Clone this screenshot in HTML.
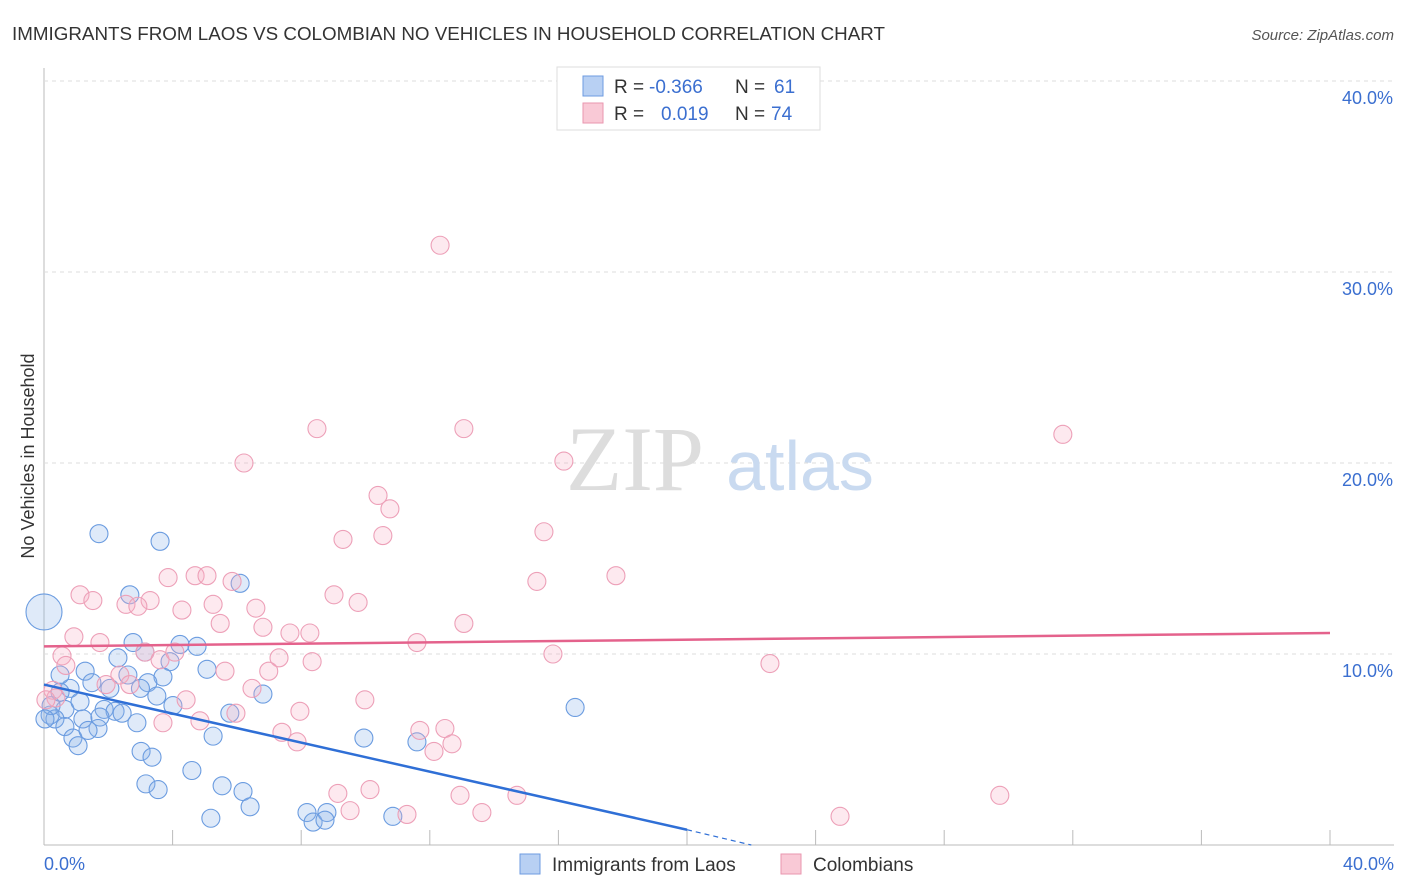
<!DOCTYPE html>
<html><head><meta charset="utf-8"><style>
body{margin:0;background:#fff;font-family:"Liberation Sans",sans-serif}
svg{display:block}
</style></head><body>
<svg width="1406" height="892">
<text x="12" y="40" font-size="18" fill="#333" textLength="873" lengthAdjust="spacingAndGlyphs">IMMIGRANTS FROM LAOS VS COLOMBIAN NO VEHICLES IN HOUSEHOLD CORRELATION CHART</text>
<text x="1394" y="40" font-size="15" fill="#555" font-style="italic" text-anchor="end">Source: ZipAtlas.com</text>
<g id="grid"></g>
<text x="635" y="490" font-size="92" fill="#ddd" font-family="Liberation Serif" text-anchor="middle">ZIP</text>
<text x="800" y="490" font-size="70" fill="#c9daf0" text-anchor="middle">atlas</text>
<g id="pts"></g>
<g id="lines"></g>
<text transform="translate(34,456) rotate(-90)" font-size="18" fill="#333" text-anchor="middle">No Vehicles in Household</text>
<text x="44" y="870" font-size="18" fill="#3b6fd0">0.0%</text>
<text x="1394" y="870" font-size="18" fill="#3b6fd0" text-anchor="end">40.0%</text>
<g>
<rect x="557" y="67" width="263" height="63" fill="#fff" stroke="#ddd"/>
<rect x="583" y="76" width="20" height="20" fill="#b8d0f3" stroke="#6e9be0"/>
<rect x="583" y="103" width="20" height="20" fill="#f9c9d6" stroke="#e996af"/>
<text x="614" y="93" font-size="19" fill="#333">R =</text>
<text x="649" y="93" font-size="19" fill="#3b6fd0">-0.366</text>
<text x="735" y="93" font-size="19" fill="#333">N =</text>
<text x="774" y="93" font-size="19" fill="#3b6fd0">61</text>
<text x="614" y="120" font-size="19" fill="#333">R =</text>
<text x="661" y="120" font-size="19" fill="#3b6fd0">0.019</text>
<text x="735" y="120" font-size="19" fill="#333">N =</text>
<text x="771" y="120" font-size="19" fill="#3b6fd0">74</text>
</g>
<g>
<rect x="520" y="854" width="20" height="20" fill="#b8d0f3" stroke="#6e9be0"/>
<text x="552" y="871" font-size="19" fill="#333">Immigrants from Laos</text>
<rect x="781" y="854" width="20" height="20" fill="#f9c9d6" stroke="#e996af"/>
<text x="813" y="871" font-size="19" fill="#333">Colombians</text>
</g>
</svg>
<script>
const yTicks=[10,20,30,40];
const yTickLabels=["10.0%","20.0%","30.0%","40.0%"];
const xTicks=[0,4,8,12,16,20,24,28,32,36,40];
const blueX=[0,1.71,3.61,2.67,6.1,2.77,4.23,4.76,3.14,3.92,5.07,1.28,2.3,1.49,2.61,3.7,3.23,2.05,0.81,0.5,6.81,3.51,4.01,5.78,1.87,2.21,2.43,0.65,0.19,0.34,1.21,1.74,2.89,1.68,0.65,0.9,1.06,5.26,1.37,3.02,3.36,4.6,3.17,3.55,5.54,6.19,6.41,5.19,8.18,8.37,8.8,8.74,9.95,11.6,10.85,16.52,0.22,0.5,0.03,1.12,3.0];
const blueY=[12.2,16.3,15.9,13.1,13.7,10.6,10.5,10.4,10.1,9.6,9.2,9.1,9.8,8.5,8.9,8.8,8.5,8.2,8.2,8.9,7.9,7.8,7.3,6.9,7.1,7.0,6.9,7.1,6.8,6.6,6.6,6.7,6.4,6.1,6.2,5.6,5.2,5.7,6.0,4.9,4.6,3.9,3.2,2.9,3.1,2.8,2.0,1.4,1.7,1.2,1.7,1.3,5.6,5.4,1.5,7.2,7.3,8.0,6.6,7.5,8.2];
const blueR=[18];
const pinkX=[12.32,8.49,13.06,31.69,6.22,16.17,10.39,10.76,15.55,9.3,10.54,3.86,4.7,5.07,5.85,17.79,15.33,1.12,1.52,2.55,3.3,2.92,4.29,5.26,6.59,9.02,9.77,5.48,6.81,13.06,7.65,8.27,0.93,1.74,11.6,3.14,3.61,4.07,0.56,0.68,15.83,7.31,8.34,6.99,5.63,22.58,2.36,2.67,1.93,6.47,4.42,9.98,5.97,4.85,3.7,7.96,7.4,7.87,11.69,12.47,12.69,12.13,0.28,0.37,0.06,9.14,10.14,12.94,14.71,9.52,11.29,13.62,24.76,29.73];
const pinkY=[31.4,21.8,21.8,21.5,20.0,20.1,18.3,17.6,16.4,16.0,16.2,14.0,14.1,14.1,13.8,14.1,13.8,13.1,12.8,12.6,12.8,12.5,12.3,12.6,12.4,13.1,12.7,11.6,11.4,11.6,11.1,11.1,10.9,10.6,10.6,10.1,9.7,10.1,9.9,9.4,10.0,9.8,9.6,9.1,9.1,9.5,8.9,8.4,8.4,8.2,7.6,7.6,6.9,6.5,6.4,7.0,5.9,5.4,6.0,6.1,5.3,4.9,8.1,7.7,7.6,2.7,2.9,2.6,2.6,1.8,1.6,1.7,1.5,2.6];
const blueTrend=[[0,8.4],[20,0.8]];
const blueDash=[[20,0.8],[22,0]];
const pinkTrend=[[0,10.4],[40,11.1]];
const X=v=>44+v*32.15, Y=v=>845-v*19.1;
const NS="http://www.w3.org/2000/svg";
function mk(t,a,p){const e=document.createElementNS(NS,t);for(const k in a)e.setAttribute(k,a[k]);p.appendChild(e);return e;}
const g=document.getElementById('grid');
const ax=mk('line',{x1:44,y1:68,x2:44,y2:845,stroke:'#bbb'},g);


const bx=mk('line',{x1:44,y1:845,x2:1394,y2:845,stroke:'#bbb'},g);


yTicks.forEach((v,i)=>{
 const l=mk('line',{x1:44,y1:Y(v),x2:1394,y2:Y(v),stroke:'#ddd','stroke-dasharray':'4,4'},g);
 
 
 const t=mk('text',{x:1393,y:Y(v)+23,'font-size':18,fill:'#3b6fd0','text-anchor':'end'},g);
 t.textContent=yTickLabels[i];
 
 
});
xTicks.forEach(v=>{
 const l=mk('line',{x1:X(v),y1:830,x2:X(v),y2:845,stroke:'#bbb'},g);
 
 
});
const p=document.getElementById('pts');
blueX.forEach((v,i)=>{
 const c=mk('circle',{cx:X(v),cy:Y(blueY[i]),r:blueR[i]||9,fill:'rgba(140,180,235,0.28)',stroke:'#6b9ce0','stroke-width':1.1},p);
 
 
});
pinkX.forEach((v,i)=>{
 const c=mk('circle',{cx:X(v),cy:Y(pinkY[i]),r:9,fill:'rgba(248,175,198,0.28)',stroke:'#eda0b8','stroke-width':1.1},p);
 
 
});
const L=document.getElementById('lines');
const b1=mk('line',{x1:X(blueTrend[0][0]),y1:Y(blueTrend[0][1]),x2:X(blueTrend[1][0]),y2:Y(blueTrend[1][1]),stroke:'#2f6fd6','stroke-width':2.5},L);


const b2=mk('line',{x1:X(blueDash[0][0]),y1:Y(blueDash[0][1]),x2:X(blueDash[1][0]),y2:Y(blueDash[1][1]),stroke:'#2f6fd6','stroke-width':1.2,'stroke-dasharray':'5,4'},L);


const p1=mk('line',{x1:X(pinkTrend[0][0]),y1:Y(pinkTrend[0][1]),x2:X(pinkTrend[1][0]),y2:Y(pinkTrend[1][1]),stroke:'#e4628c','stroke-width':2.5},L);


</script>
</body></html>
